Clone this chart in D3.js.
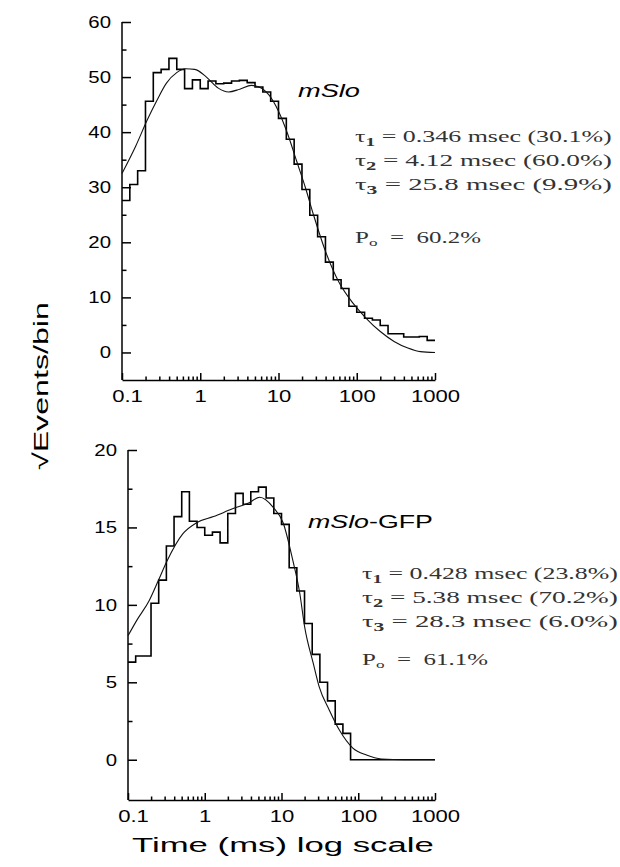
<!DOCTYPE html>
<html>
<head>
<meta charset="utf-8">
<script src="https://cdn.jsdelivr.net/npm/d3@7/dist/d3.min.js"></script>
<style>
  body { margin: 0; background: #fff; }
  svg { display: block; }
  text { font-family: Arial, "Liberation Sans", sans-serif; fill: #000; }
</style>
</head>
<body>
<svg id="chart" width="620" height="867"></svg>
<script>
// histogram bins: 10 per decade, 0.1 ms .. 1000 ms
const binStart = 0.1;
const binsPerDecade = 10;

// sqrt(events/bin), mSlo
const sloCounts = [27.6, 30.5, 33.0, 45.6, 50.8, 51.4, 53.4, 51.4, 47.9, 49.5,
                   47.9, 49.3, 48.8, 48.9, 49.3, 49.4, 49.0, 48.2, 47.3, 45.6,
                   42.5, 38.7, 34.2, 29.6, 24.9, 21.0, 16.4, 13.2, 11.6, 8.4,
                   7.3, 6.2, 5.9, 4.9, 3.4, 3.4, 2.8, 2.8, 2.9, 2.2];
// sqrt(events/bin), mSlo-GFP
const gfpCounts = [6.3, 6.7, 6.7, 10.1, 11.6, 13.8, 15.7, 17.3, 15.4, 15.0,
                   14.5, 14.7, 14.0, 15.9, 17.2, 16.5, 17.3, 17.6, 16.9, 15.9,
                   15.2, 12.4, 10.9, 8.8, 6.8, 5.0, 3.8, 2.3, 1.7, 0,
                   0, 0, 0, 0, 0, 0, 0, 0, 0, 0];

// fitted curves
const sloFitT = [0.1, 0.15, 0.21, 0.28, 0.37, 0.5, 0.65, 0.85, 1.2, 1.7, 2.3, 3.2, 4.5, 6, 7.5,
                 10, 13, 17, 22, 28, 40, 60, 90, 130, 200, 300, 450, 650, 1000];
const sloFitV = [32.5, 37.5, 42.2, 45.8, 48.9, 50.8, 51.5, 51.4, 50.0, 48.0, 47.3, 47.8, 48.5, 48.0, 46.8,
                 43.8, 39.8, 34.8, 30.0, 25.0, 18.3, 12.6, 8.9, 6.3, 3.8, 2.0, 0.8, 0.15, 0];
const gfpFitT = [0.1, 0.13, 0.19, 0.25, 0.32, 0.52, 0.78, 1.3, 2.3, 3.8, 5.2, 7.8, 10.5, 14, 17.3,
                 20, 26, 31, 42, 57, 85, 128, 200, 400, 1000];
const gfpFitV = [8.0, 9.0, 10.3, 11.6, 12.8, 14.6, 15.3, 15.7, 16.2, 16.6, 16.95, 16.3, 15.3, 12.9, 10.75,
                 8.6, 6.2, 4.7, 3.2, 1.9, 0.75, 0.3, 0.05, 0, 0];

const xTickValues = [0.1, 1, 10, 100, 1000];
const xTickLabels = ['0.1', '1', '10', '100', '1000'];
const sloYTicks = [0, 10, 20, 30, 40, 50, 60];
const sloYMinor = [5, 15, 25, 35, 45, 55];
const gfpYTicks = [0, 5, 10, 15, 20];
const gfpYMinor = [2.5, 7.5, 12.5, 17.5];

const sloTaus = [['1', '0.346 msec (30.1%)'], ['2', '4.12 msec (60.0%)'], ['3', '25.8 msec (9.9%)']];
const gfpTaus = [['1', '0.428 msec (23.8%)'], ['2', '5.38 msec (70.2%)'], ['3', '28.3 msec (6.0%)']];
const sloPo = '60.2%';
const gfpPo = '61.1%';

const serifFont = '"Liberation Serif", "Times New Roman", "DejaVu Serif", serif';
const svg = d3.select('#chart');

// stretch a text horizontally so it spans the given width
function fitWidth(sel, w) {
  sel.each(function() {
    const t = d3.select(this);
    const nat = this.getComputedTextLength();
    const base = t.attr('data-tr');
    t.attr('transform', `${base} scale(${w / nat},1)`);
  });
}

function drawPanel(opt) {
  const x = d3.scaleLog().domain([0.1, 1000]).range(opt.xRange);
  const y = d3.scaleLinear().domain(opt.yDomain).range(opt.yRange);
  const g = svg.append('g');

  // x axis, ticks point up into the plot
  const xAxis = g.append('g')
    .attr('transform', `translate(0,${opt.yRange[0]})`)
    .call(d3.axisBottom(x).tickValues(xTickValues).tickSize(-7).tickSizeOuter(0)
      .tickPadding(9).tickFormat((d, i) => xTickLabels[i]));
  g.append('g')
    .attr('transform', `translate(0,${opt.yRange[0]})`)
    .call(d3.axisBottom(x).tickValues(x.ticks().filter(d => !xTickValues.includes(d)))
      .tickSize(-3.5).tickSizeOuter(0).tickFormat(''))
    .select('.domain').remove();

  xAxis.selectAll('text')
    .attr('font-size', 17)
    .attr('dy', '0.75em')
    .attr('transform', 'scale(1.3,1)')
    .attr('x', (d, i) => i === 0 ? 5 / 1.3 : 0);

  // y axis, ticks point right into the plot
  const yAxis = g.append('g')
    .attr('transform', `translate(${opt.xRange[0]},0)`)
    .call(d3.axisLeft(y).tickValues(opt.yTicks).tickSize(-9).tickSizeOuter(0).tickPadding(11));
  yAxis.select('.domain').attr('d', `M0,${y(opt.yTicks[opt.yTicks.length - 1])}V${opt.yRange[0]}`);
  g.append('g')
    .attr('transform', `translate(${opt.xRange[0]},0)`)
    .call(d3.axisLeft(y).tickValues(opt.yMinor).tickSize(-4.5).tickSizeOuter(0).tickFormat(''))
    .select('.domain').remove();

  yAxis.selectAll('text')
    .attr('font-size', 17)
    .attr('transform', 'scale(1.2,1)')
    .attr('x', -11 / 1.2);

  g.selectAll('.domain, .tick line').attr('stroke', '#000').attr('stroke-width', 1.5);

  // step histogram
  const steps = opt.counts.map((c, i) => ({
    t0: binStart * Math.pow(10, i / binsPerDecade),
    t1: binStart * Math.pow(10, (i + 1) / binsPerDecade),
    v: c
  }));
  let d = `M${x(steps[0].t0)},${y(steps[0].v)}`;
  steps.forEach(s => { d += `V${y(s.v)}H${x(s.t1)}`; });
  g.append('path')
    .attr('d', d)
    .attr('fill', 'none')
    .attr('stroke', '#000')
    .attr('stroke-width', 1.6);

  // fitted curve
  const pts = opt.fitT.map((t, i) => [t, opt.fitV[i]]);
  g.append('path')
    .datum(pts)
    .attr('d', d3.line().x(p => x(p[0])).y(p => y(p[1])).curve(d3.curveMonotoneX))
    .attr('fill', 'none')
    .attr('stroke', '#111')
    .attr('stroke-width', 1.1);

  // name of the construct
  const name = g.append('text')
    .attr('data-tr', `translate(${opt.nameX},${opt.nameY})`)
    .attr('font-size', 19);
  name.append('tspan').attr('font-style', 'italic').text('mSlo');
  if (opt.suffix) name.append('tspan').text(opt.suffix);
  fitWidth(name, opt.nameW);

  // time constants
  opt.taus.forEach((tau, i) => {
    const t = g.append('text')
      .style('font-family', serifFont)
      .style('fill', '#333')
      .attr('data-tr', `translate(${opt.tauX},${opt.tauY + i * opt.tauStep})`)
      .attr('font-size', 16);
    t.append('tspan').text('τ');
    t.append('tspan').attr('font-size', 12).attr('font-weight', 'bold').attr('dy', 4).text(tau[0]);
    t.append('tspan').attr('dy', -4).text(' = ' + tau[1]);
    fitWidth(t, opt.tauW);
  });

  const po = g.append('text')
    .style('font-family', serifFont)
    .style('fill', '#333')
    .attr('data-tr', `translate(${opt.tauX},${opt.poY})`)
    .attr('font-size', 16);
  po.append('tspan').text('P');
  po.append('tspan').attr('font-size', 11).attr('dy', 3).text('o');
  po.append('tspan').attr('dy', -3).text('\u00a0\u00a0=\u00a0\u00a0' + opt.po);
  fitWidth(po, opt.poW);
}

drawPanel({
  xRange: [122, 435], yDomain: [-5, 60], yRange: [380, 22],
  yTicks: sloYTicks, yMinor: sloYMinor,
  counts: sloCounts, fitT: sloFitT, fitV: sloFitV,
  nameX: 298, nameY: 97, nameW: 62, suffix: null,
  taus: sloTaus, tauX: 355, tauY: 142, tauStep: 24, tauW: 257,
  po: sloPo, poY: 243, poW: 126
});

drawPanel({
  xRange: [128, 435], yDomain: [-2.6, 20], yRange: [800, 450],
  yTicks: gfpYTicks, yMinor: gfpYMinor,
  counts: gfpCounts, fitT: gfpFitT, fitV: gfpFitV,
  nameX: 308, nameY: 528, nameW: 125, suffix: '-GFP',
  taus: gfpTaus, tauX: 362, tauY: 579, tauStep: 24, tauW: 256,
  po: gfpPo, poY: 665, poW: 126
});

// shared axis titles
const xTitle = svg.append('text')
  .attr('data-tr', 'translate(132,852)')
  .attr('font-size', 21)
  .text('Time (ms) log scale');
fitWidth(xTitle, 302);

const yTitle = svg.append('text')
  .attr('data-tr', 'translate(48,470) rotate(-90)')
  .attr('font-size', 21)
  .text('√Events/bin');
fitWidth(yTitle, 168);
</script>
</body>
</html>
